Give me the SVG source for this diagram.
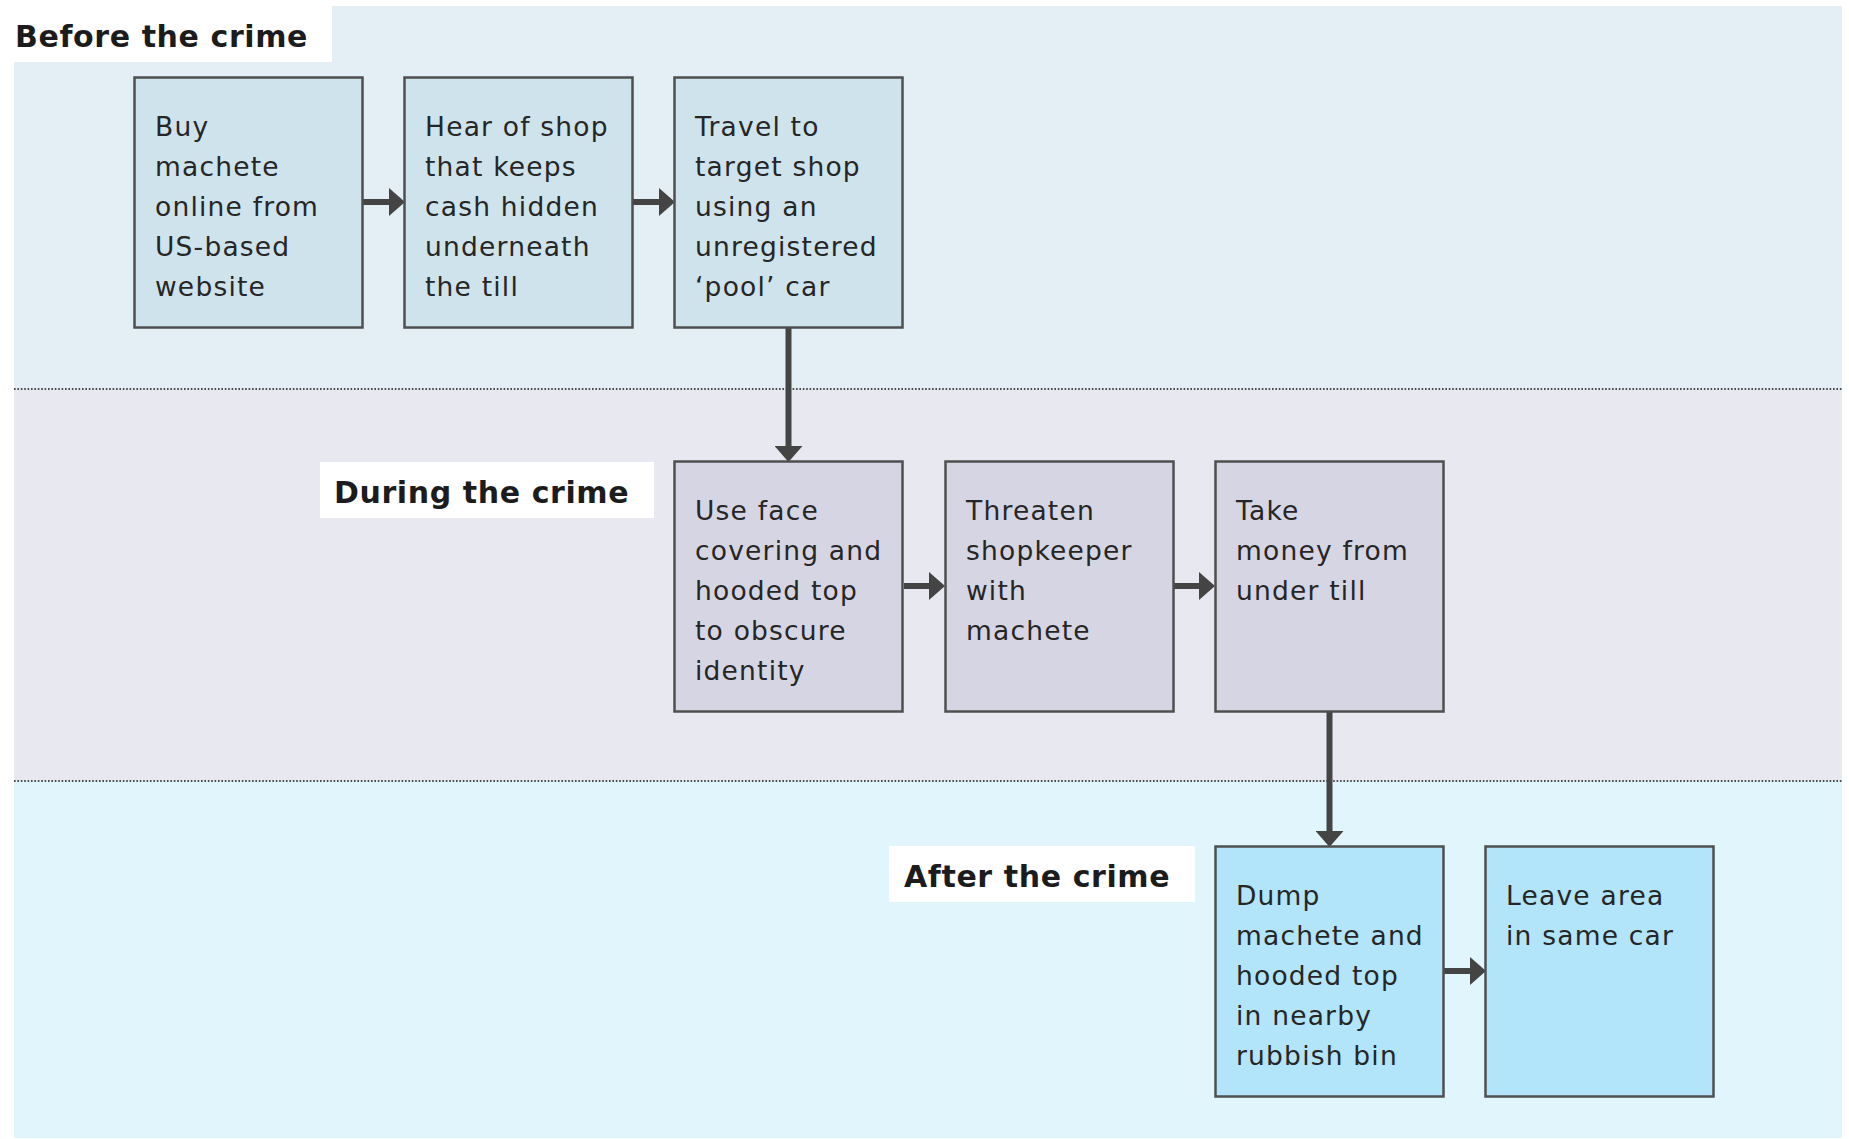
<svg xmlns="http://www.w3.org/2000/svg" width="1849" height="1139" viewBox="0 0 1849 1139">
  <style>
    .band-before { fill: #e3eff5; }
    .band-during { fill: #e8e8f1; }
    .band-after { fill: #e1f5fd; }
    .divider { stroke: #4a4a4a; stroke-width: 1.8; stroke-dasharray: 1.6 1.8; fill: none; }
    .label-bg { fill: #ffffff; }
    .label { font-family: "DejaVu Sans", "Liberation Sans", sans-serif; font-weight: bold; font-size: 30px; letter-spacing: 0.6px; fill: #1c1c1c; }
    .box { stroke: #4f4f4f; stroke-width: 2.5; }
    .box-before { fill: #cfe3ec; }
    .box-during { fill: #d6d5e3; }
    .box-after { fill: #b2e4fa; }
    .txt { font-family: "DejaVu Sans", "Liberation Sans", sans-serif; font-size: 26.5px; letter-spacing: 1.2px; fill: #262626; }
    .conn { stroke: #444444; stroke-width: 6; fill: none; }
  </style>
  <defs>
    <marker id="arrow" markerUnits="userSpaceOnUse" markerWidth="16" markerHeight="28" refX="0" refY="14" orient="auto" viewBox="0 0 16 28">
      <path d="M0,0 L16,14 L0,28 Z" fill="#444444"/>
    </marker>
  </defs>

  <g id="bands">
    <rect class="band-before" x="14" y="6" width="1828" height="383"/>
    <rect class="band-during" x="14" y="389" width="1828" height="392"/>
    <rect class="band-after" x="14" y="781" width="1828" height="357"/>
    <line class="divider" x1="14" y1="389" x2="1842" y2="389"/>
    <line class="divider" x1="14" y1="781" x2="1842" y2="781"/>
  </g>

  <g id="label-before">
    <rect class="label-bg" x="14" y="6" width="318" height="56"/>
    <text class="label" x="15" y="47">Before the crime</text>
  </g>
  <g id="label-during">
    <rect class="label-bg" x="320" y="462" width="334" height="56"/>
    <text class="label" x="334" y="503">During the crime</text>
  </g>
  <g id="label-after">
    <rect class="label-bg" x="889" y="846" width="306" height="56"/>
    <text class="label" x="904" y="887">After the crime</text>
  </g>

  <g id="connectors">
    <line class="conn" x1="363" y1="202" x2="389" y2="202" marker-end="url(#arrow)"/>
    <line class="conn" x1="633" y1="202" x2="659" y2="202" marker-end="url(#arrow)"/>
    <line class="conn" x1="788.5" y1="327" x2="788.5" y2="446" marker-end="url(#arrow)"/>
    <line class="conn" x1="904" y1="586" x2="929" y2="586" marker-end="url(#arrow)"/>
    <line class="conn" x1="1174" y1="586" x2="1199" y2="586" marker-end="url(#arrow)"/>
    <line class="conn" x1="1329.5" y1="711" x2="1329.5" y2="831" marker-end="url(#arrow)"/>
    <line class="conn" x1="1444" y1="971" x2="1470" y2="971" marker-end="url(#arrow)"/>
  </g>

  <g id="node-buy">
    <rect class="box box-before" x="134.5" y="77.5" width="228" height="250"/>
    <text class="txt" x="155" y="136">
      <tspan x="155" y="136">Buy</tspan>
      <tspan x="155" y="176">machete</tspan>
      <tspan x="155" y="216">online from</tspan>
      <tspan x="155" y="256">US-based</tspan>
      <tspan x="155" y="296">website</tspan>
    </text>
  </g>
  <g id="node-hear">
    <rect class="box box-before" x="404.5" y="77.5" width="228" height="250"/>
    <text class="txt" x="425" y="136">
      <tspan x="425" y="136">Hear of shop</tspan>
      <tspan x="425" y="176">that keeps</tspan>
      <tspan x="425" y="216">cash hidden</tspan>
      <tspan x="425" y="256">underneath</tspan>
      <tspan x="425" y="296">the till</tspan>
    </text>
  </g>
  <g id="node-travel">
    <rect class="box box-before" x="674.5" y="77.5" width="228" height="250"/>
    <text class="txt" x="695" y="136">
      <tspan x="695" y="136">Travel to</tspan>
      <tspan x="695" y="176">target shop</tspan>
      <tspan x="695" y="216">using an</tspan>
      <tspan x="695" y="256">unregistered</tspan>
      <tspan x="695" y="296">‘pool’ car</tspan>
    </text>
  </g>
  <g id="node-face">
    <rect class="box box-during" x="674.5" y="461.5" width="228" height="250"/>
    <text class="txt" x="695" y="520">
      <tspan x="695" y="520">Use face</tspan>
      <tspan x="695" y="560">covering and</tspan>
      <tspan x="695" y="600">hooded top</tspan>
      <tspan x="695" y="640">to obscure</tspan>
      <tspan x="695" y="680">identity</tspan>
    </text>
  </g>
  <g id="node-threaten">
    <rect class="box box-during" x="945.5" y="461.5" width="228" height="250"/>
    <text class="txt" x="966" y="520">
      <tspan x="966" y="520">Threaten</tspan>
      <tspan x="966" y="560">shopkeeper</tspan>
      <tspan x="966" y="600">with</tspan>
      <tspan x="966" y="640">machete</tspan>
    </text>
  </g>
  <g id="node-take">
    <rect class="box box-during" x="1215.5" y="461.5" width="228" height="250"/>
    <text class="txt" x="1236" y="520">
      <tspan x="1236" y="520">Take</tspan>
      <tspan x="1236" y="560">money from</tspan>
      <tspan x="1236" y="600">under till</tspan>
    </text>
  </g>
  <g id="node-dump">
    <rect class="box box-after" x="1215.5" y="846.5" width="228" height="250"/>
    <text class="txt" x="1236" y="905">
      <tspan x="1236" y="905">Dump</tspan>
      <tspan x="1236" y="945">machete and</tspan>
      <tspan x="1236" y="985">hooded top</tspan>
      <tspan x="1236" y="1025">in nearby</tspan>
      <tspan x="1236" y="1065">rubbish bin</tspan>
    </text>
  </g>
  <g id="node-leave">
    <rect class="box box-after" x="1485.5" y="846.5" width="228" height="250"/>
    <text class="txt" x="1506" y="905">
      <tspan x="1506" y="905">Leave area</tspan>
      <tspan x="1506" y="945">in same car</tspan>
    </text>
  </g>
</svg>
